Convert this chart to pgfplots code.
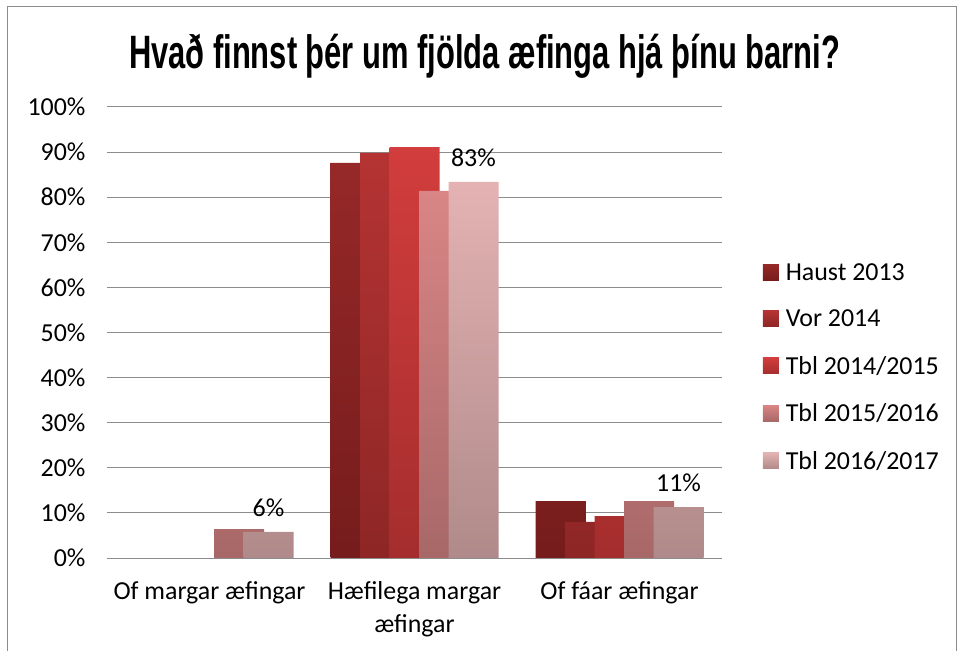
\documentclass[border=0pt]{standalone}
\usepackage{pgfplots}
\pgfplotsset{compat=1.18}
\usepackage{fontspec}
\setmainfont{Carlito}
\newfontfamily\titlefont[FakeStretch=0.66]{Liberation Sans}
\definecolor{gridc}{HTML}{8C8C8C}
\definecolor{aT}{HTML}{962828}\definecolor{aB}{HTML}{761C1C}
\definecolor{bT}{HTML}{B53333}\definecolor{bB}{HTML}{8E2626}
\definecolor{cT}{HTML}{D23D3D}\definecolor{cB}{HTML}{A52D2D}
\definecolor{dT}{HTML}{D98585}\definecolor{dB}{HTML}{A86868}
\definecolor{eT}{HTML}{E4B2B2}\definecolor{eB}{HTML}{B08A8A}
\begin{document}
\begin{tikzpicture}
\useasboundingbox (0,0) rectangle (958bp,651bp);
\draw[gridc, line width=1bp] (7bp,-20bp) -- (7bp,644bp) -- (956bp,644bp) -- (956bp,-20bp);
\node[font=\titlefont\bfseries\fontsize{47}{50}\selectfont, anchor=base] at (484.5bp,582bp) {Hvað finnst þér um fjölda æfinga hjá þínu barni?};
\begin{axis}[
  at={(107bp,93bp)}, anchor=south west,
  scale only axis, width=615bp, height=451bp,
  ybar, bar width=50bp,
  xmin=-0.5, xmax=2.5, ymin=0, ymax=100,
  xtick={0,1,2},
  xticklabels={Of margar æfingar, {Hæfilega margar\\æfingar}, Of fáar æfingar},
  xticklabel style={align=center, yshift=-16bp},
  ytick={0,10,...,100},
  yticklabel={\pgfmathprintnumber{\tick}\%},
  yticklabel style={xshift=-18bp},
  /pgf/number format/assume math mode=true,
  tick style={draw=none},
  ymajorgrids, grid style={gridc, line width=1bp},
  separate axis lines,
  y axis line style={draw=none},
  x axis line style={gridc, line width=1bp},
  axis x line*=bottom,
  font=\fontsize{26}{33}\selectfont,
  ticklabel style={font=\fontsize{26}{33}\selectfont},
  legend style={draw=none, fill=none, at={(1.066,0.4235)}, anchor=west, inner sep=0pt,
    legend cell align=left, row sep=24bp,
    /tikz/every odd column/.append style={column sep=5bp},
    nodes={inner sep=2bp, font=\fontsize{26}{30}\selectfont}},
  legend image code/.code={\path[#1, draw=none] (0bp,-8bp) rectangle (16bp,8bp);},
]
\addplot[draw=none, top color=aT, bottom color=aB, bar shift=-59bp] coordinates {(1,87.6) (2,12.6)};
\addplot[draw=none, top color=bT, bottom color=bB, bar shift=-29.5bp] coordinates {(1,89.8) (2,8.0)};
\addplot[draw=none, top color=cT, bottom color=cB, bar shift=0bp] coordinates {(1,91.1) (2,9.3)};
\addplot[draw=none, top color=dT, bottom color=dB, bar shift=29.5bp] coordinates {(0,6.4) (1,81.4) (2,12.6)};
\addplot[draw=none, top color=eT, bottom color=eB, bar shift=59bp,
  nodes near coords={\pgfmathprintnumber[fixed,precision=0]{\pgfplotspointmeta}\%},
  nodes near coords style={text=black, yshift=12bp, font=\fontsize{26}{30}\selectfont}] coordinates {(0,5.8) (1,83.4) (2,11.3)};
\legend{Haust 2013, Vor 2014, Tbl 2014/2015, Tbl 2015/2016, Tbl 2016/2017}
\end{axis}
\end{tikzpicture}
\end{document}
